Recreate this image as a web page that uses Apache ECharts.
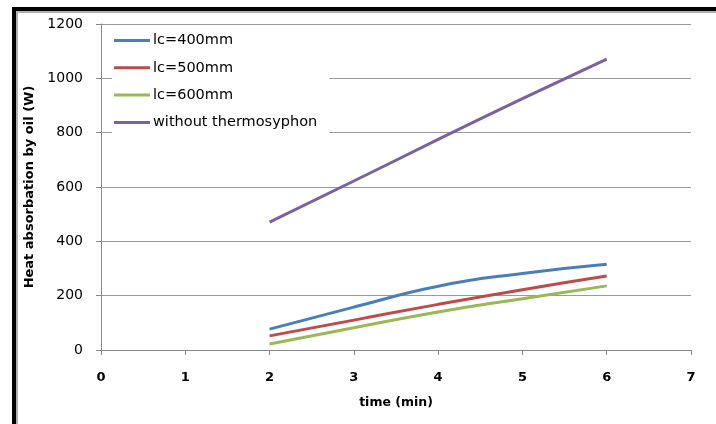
<!DOCTYPE html>
<html>
<head>
<meta charset="utf-8">
<script src="https://cdn.jsdelivr.net/npm/echarts@6/dist/echarts.min.js"></script>
<style>html,body{margin:0;padding:0;background:#fff}#c{width:716px;height:424px}</style>
</head>
<body>
<div id="c"></div>
<script>
var times = [2, 3, 4, 5, 6];
var lc400 = [77, 158, 235, 282, 316];
var lc500 = [52, 110, 168, 222, 272];
var lc600 = [22, 82, 140, 189, 236];
var noThermo = [471, 622, 775, 925, 1071];
var seriesNames = ['lc=400mm', 'lc=500mm', 'lc=600mm', 'without thermosyphon'];
var xTicks = [0, 1, 2, 3, 4, 5, 6, 7];
var yTicks = [0, 200, 400, 600, 800, 1000, 1200];

function pairs(vals){ return times.map(function(t,i){ return [t, vals[i]]; }); }
var colors = ['#4A7EBB', '#BE4B48', '#98B954', '#7D60A0'];
var allVals = [lc400, lc500, lc600, noThermo];

var chart = echarts.init(document.getElementById('c'), null, {renderer:'canvas'});
chart.setOption({
  animation: false,
  backgroundColor: '#fff',
  graphic: [
    {type:'rect', shape:{x:12, y:7, width:720, height:4}, style:{fill:'#000'}},
    {type:'rect', shape:{x:12, y:7, width:4, height:430}, style:{fill:'#000'}},
    {type:'line', shape:{x1:16, y1:12, x2:716, y2:12}, style:{stroke:'#b0b0b0', lineWidth:2}},
    {type:'line', shape:{x1:17, y1:12, x2:17, y2:424}, style:{stroke:'#b0b0b0', lineWidth:2}}
  ],
  grid: {left:101, right:25, top:24, bottom:74},
  legend: {
    orient:'vertical', left:112, top:31,
    itemWidth:36, itemHeight:14, itemGap:12.3,
    icon:'path://M0,0 L36,0 L36,3 L0,3 Z',
    backgroundColor:'#fff', padding:[2,12,8,2],
    data: seriesNames,
    textStyle:{fontFamily:'DejaVu Sans', fontSize:14.5, color:'#000', padding:[0,0,0,-2]}
  },
  xAxis: {
    type:'value', min:0, max:7, interval:1,
    name:'time (min)', nameLocation:'middle', nameGap:46,
    nameTextStyle:{fontFamily:'DejaVu Sans', fontWeight:'bold', fontSize:12.5, color:'#000'},
    axisLine:{lineStyle:{color:'#888', width:1}},
    axisTick:{show:true, length:5, lineStyle:{color:'#888'}},
    axisLabel:{fontFamily:'DejaVu Sans', fontWeight:'bold', fontSize:13, color:'#000', margin:21,
      formatter:function(v){ return xTicks.indexOf(v)>=0 ? String(v) : ''; }},
    splitLine:{show:false}
  },
  yAxis: {
    type:'value', min:0, max:1200, interval:200,
    name:'Heat absorbation by oil (W)', nameLocation:'middle', nameGap:56, nameRotate:90,
    nameTextStyle:{fontFamily:'DejaVu Sans', fontWeight:'bold', fontSize:13, color:'#000'},
    axisLine:{show:true, lineStyle:{color:'#888', width:1}},
    axisTick:{show:true, length:5, lineStyle:{color:'#888'}},
    axisLabel:{fontFamily:'DejaVu Sans', fontSize:14, color:'#000', margin:18,
      formatter:function(v){ return yTicks.indexOf(v)>=0 ? String(v) : ''; }},
    splitLine:{show:true, lineStyle:{color:'#999', width:1}}
  },
  series: seriesNames.map(function(n,i){
    return {
      name:n, type:'line', data:pairs(allVals[i]), smooth:0.5,
      symbol:'none', showSymbol:false, color:colors[i],
      lineStyle:{width:3, color:colors[i]}, z: 3
    };
  })
});
</script>
</body>
</html>
